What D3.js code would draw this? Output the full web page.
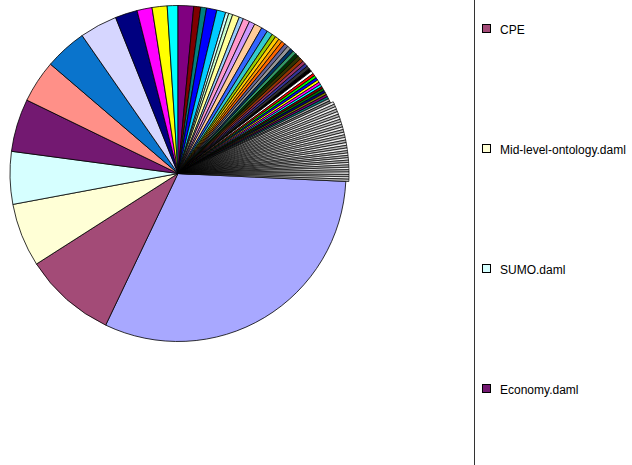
<!DOCTYPE html>
<html><head><meta charset="utf-8">
<script src="https://cdn.jsdelivr.net/npm/d3@7"></script>
<style>body{margin:0;background:#fff}svg{display:block}</style>
</head><body>
<svg id="c" width="632" height="465"></svg>
<script>
// Slice values, in drawing order (clockwise from the first slice)
const values = [
  1128, 319, 220, 182, 183, 147, 146, 130, 77, 52, 52, 37, 54,
  24, 20, 36, 31, 11, 14, 24, 15, 23, 20, 27, 22, 20,
  14, 14, 13, 13, 13, 13, 12, 12, 12, 12, 12, 11, 11, 11, 11, 10,
  9, 9, 9, 9, 9, 8, 8, 8, 8, 8, 8, 8, 8, 8,
  9, 9, 9, 9, 9, 9, 9, 9, 9, 9, 9, 9, 9, 9, 9, 9, 9, 9, 9,
  8, 8, 8, 8, 8, 8, 8, 8, 8, 8, 8, 8, 8
];
// Legend entries visible in the picture (index into values)
const legendLabels = ["CPE", "Mid-level-ontology.daml", "SUMO.daml", "Economy.daml"];
const legendIndex = [1, 2, 3, 4];

// Excel default palette order for chart fills (as rendered in the picture)
const palette = [
  "#A8A8FF","#A34B77","#FFFFD6","#D6FFFF","#731971","#FF9088","#0A74CC","#D6D6FF",
  "#000080","#FF00FF","#FFFF00","#00FFFF","#800080","#800000","#008080","#0000FF",
  "#00CCFF","#CCFFFF","#CCFFCC","#FFFF99","#99CCFF","#FF99CC","#CC99FF","#FFCC99",
  "#3366FF","#33CCCC","#99CC00","#FFCC00","#FF9900","#FF6600","#666699","#969696",
  "#003366","#339966","#003300","#333300","#993300","#993366","#333399","#333333",
  "#000000","#FFFFFF","#FF0000","#00FF00","#0000FF","#FFFF00","#FF00FF","#00FFFF",
  "#800000","#008000","#000080","#808000","#800080","#008080","#C0C0C0","#808080"
];
const tailFills = ["#eeeeee", "#b4b4b4"];

const svg = d3.select("#c");
const cx = 178, cy = 173.5, r = 168;
const startDeg = 92.7;
const a0 = startDeg * Math.PI / 180;

const pie = d3.pie().sort(null).value(d => d).startAngle(a0).endAngle(a0 + 2 * Math.PI);
const arcs = pie(values);
const arc = d3.arc().innerRadius(0);

const g = svg.append("g").attr("transform", `translate(${cx},${cy})`);
g.selectAll("path").data(arcs).join("path")
  .attr("d", d => arc.outerRadius(d.index < palette.length ? r : r + 3)(d))
  .attr("fill", d => d.index < palette.length ? palette[d.index] : tailFills[d.index % tailFills.length])
  .attr("stroke", "#000")
  .attr("stroke-width", d => d.index < palette.length ? 0.8 : 0.7)
  .attr("stroke-linejoin", "round");

// Legend
svg.append("line").attr("x1", 474.5).attr("x2", 474.5).attr("y1", 0).attr("y2", 465)
  .attr("stroke", "#333").attr("stroke-width", 1);

const lg = svg.append("g").selectAll("g").data(legendLabels).join("g")
  .attr("transform", (d, i) => `translate(0,${33.5 + 120 * i})`);
lg.append("rect").attr("x", 482.5).attr("y", -9).attr("width", 8).attr("height", 8)
  .attr("fill", (d, i) => palette[legendIndex[i]]).attr("stroke", "#000").attr("stroke-width", 1);
lg.append("text").attr("x", 500).attr("y", 0).text(d => d)
  .attr("font-family", "Arial, 'Liberation Sans', sans-serif").attr("font-size", 12).attr("fill", "#000");
</script>
</body></html>
